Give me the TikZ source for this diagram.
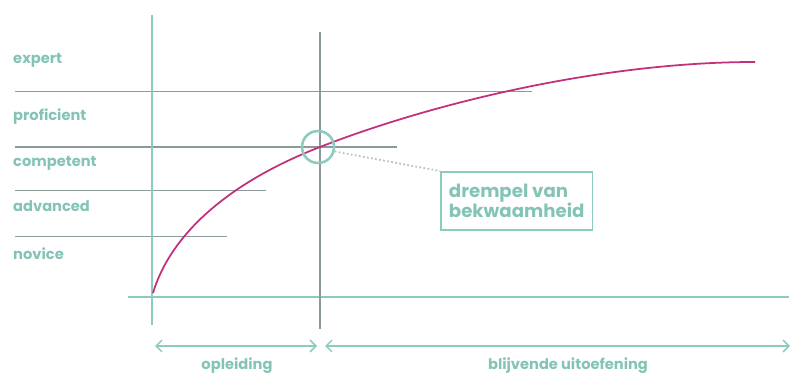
\documentclass[tikz,border=0pt]{standalone}
\usepackage{fontspec}
\setmainfont{Poppins}
\usetikzlibrary{arrows.meta}
\definecolor{teal1}{HTML}{8CCBBE}
\definecolor{tealtext}{HTML}{84C4B6}
\definecolor{greyline}{HTML}{8C9A9C}
\definecolor{curvecol}{HTML}{C2307A}
\tikzset{
  level/.style={anchor=west,text=tealtext,font=\bfseries\fontsize{12.5}{14}\selectfont,inner sep=0pt},
  levelline/.style={draw=greyline,line width=0.8pt},
  span/.style={teal1,line width=1.3pt,{Straight Barb[length=5pt,width=10pt]}-{Straight Barb[length=5pt,width=10pt]}},
}
\begin{document}
\begin{tikzpicture}[x=0.03cm,y=-0.03cm]
                \useasboundingbox (0,0) rectangle (791,375);

                % the levels
                \node[level] (expert) at (13,60) {expert};
                \node[level] (proficient) at (13,117) {proficient};
                \node[level] (competent) at (13,163) {competent};
                \node[level] (advanced) at (13,206) {advanced};
                \node[level] (novice) at (13,254) {novice};

                % lines between the levels
                \draw[levelline] (15,91) -- (532,91);
                \draw[levelline,line width=1.5pt] (15,147) -- (397,147);
                \draw[levelline] (15,190) -- (266,190);
                \draw[levelline] (15,236) -- (227,236);

                % axes
                \draw[teal1,line width=2.5pt] (152,15) -- (152,325);
                \draw[teal1,line width=2.5pt] (128,297) -- (789,297);
                \draw[greyline,line width=1.3pt] (320,32) -- (320,329);

                % the curve
                \draw[curvecol,line width=1.5pt] (153,293) .. controls (172,230) and (235,180) .. (320,147)
                                                 .. controls (430,104) and (600,62) .. (755,62);

                % threshold
                \node[draw=teal1,line width=2.2pt,circle,inner sep=0pt,minimum size=0.96cm] (drempel) at (318,147) {};
                \node[draw=teal1,line width=1.3pt,text=tealtext,font=\bfseries\fontsize{15.5}{17.5}\selectfont,
                      align=left,anchor=north west,minimum width=4.5cm,minimum height=1.74cm,inner xsep=7pt]
                      (box) at (440,171) {drempel van\\bekwaamheid};
                \draw[greyline!60,line width=1.5pt,dotted] (drempel.-15) -- (box.north west);

                % periods
                \coordinate (a) at (155,346);
                \coordinate (b) at (317,346);
                \coordinate (c) at (325,346);
                \coordinate (d) at (790,346);
                \draw[span] (a) -- (b);
                \draw[span] (c) -- (d);
                \node[level,anchor=center] (opleiding) at (237,366) {opleiding};
                \node[level,anchor=center] (uitoefening) at (568,366) {blijvende uitoefening};
            \end{tikzpicture}
\end{document}
